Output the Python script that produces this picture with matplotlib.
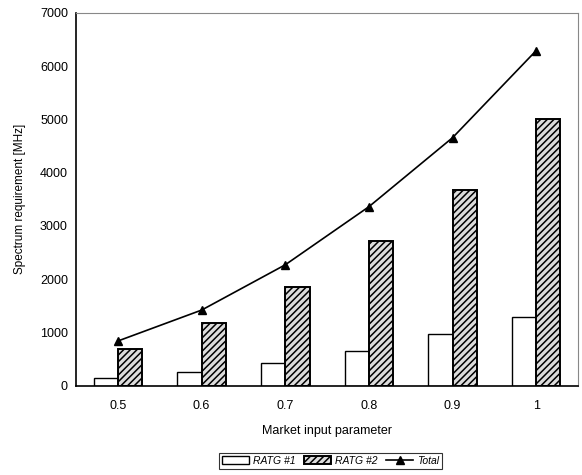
import numpy as np
import matplotlib.pyplot as plt

plt.rcParams['font.family'] = ['Liberation Sans', 'DejaVu Sans']
plt.rcParams['hatch.linewidth'] = 1.1

params = ['0.5', '0.6', '0.7', '0.8', '0.9', '1']
ratg1 = [150, 250, 420, 650, 975, 1290]
ratg2 = [690, 1170, 1850, 2710, 3680, 5000]
total = [840, 1420, 2270, 3360, 4655, 6290]

fig = plt.figure(figsize=(5.82, 4.75), dpi=100)
ax = fig.add_axes([0.131, 0.188, 0.862, 0.785])

x = np.arange(len(params))
w = 0.29
b1 = ax.bar(x - w/2, ratg1, w, facecolor='white', edgecolor='black', linewidth=1.0, label='RATG #1')
b2 = ax.bar(x + w/2, ratg2, w, facecolor='#dcdcdc', edgecolor='black', linewidth=1.4, hatch='/////', label='RATG #2')
ln, = ax.plot(x, total, color='black', linewidth=1.2, marker='^', markersize=6, label='Total')

ax.set_xlim(-0.5, len(params) - 0.5)
ax.set_ylim(0, 7000)
ax.set_yticks(np.arange(0, 7001, 1000))
ax.set_xticks(x)
ax.set_xticklabels(params)
ax.tick_params(axis='both', length=0, labelsize=9, pad=6)
ax.tick_params(axis='x', pad=10)

for s in ['top', 'right']:
    ax.spines[s].set_color('#888888')
    ax.spines[s].set_linewidth(0.8)
for s in ['left', 'bottom']:
    ax.spines[s].set_linewidth(1.2)

ax.set_ylabel('Spectrum requirement [MHz]', fontsize=8.5, labelpad=10)
ax.set_xlabel('Market input parameter', fontsize=9, labelpad=10)

leg = fig.legend(handles=[b1, b2, ln], loc='center', bbox_to_anchor=(0.568, 0.03),
                 ncol=3, frameon=True, fancybox=False, edgecolor='black',
                 handlelength=2.6, handleheight=0.8, columnspacing=0.8, handletextpad=0.4,
                 borderpad=0.3, prop={'style': 'italic', 'size': 7.5})
leg.get_frame().set_linewidth(0.8)

fig.savefig('out.png', dpi=100)
